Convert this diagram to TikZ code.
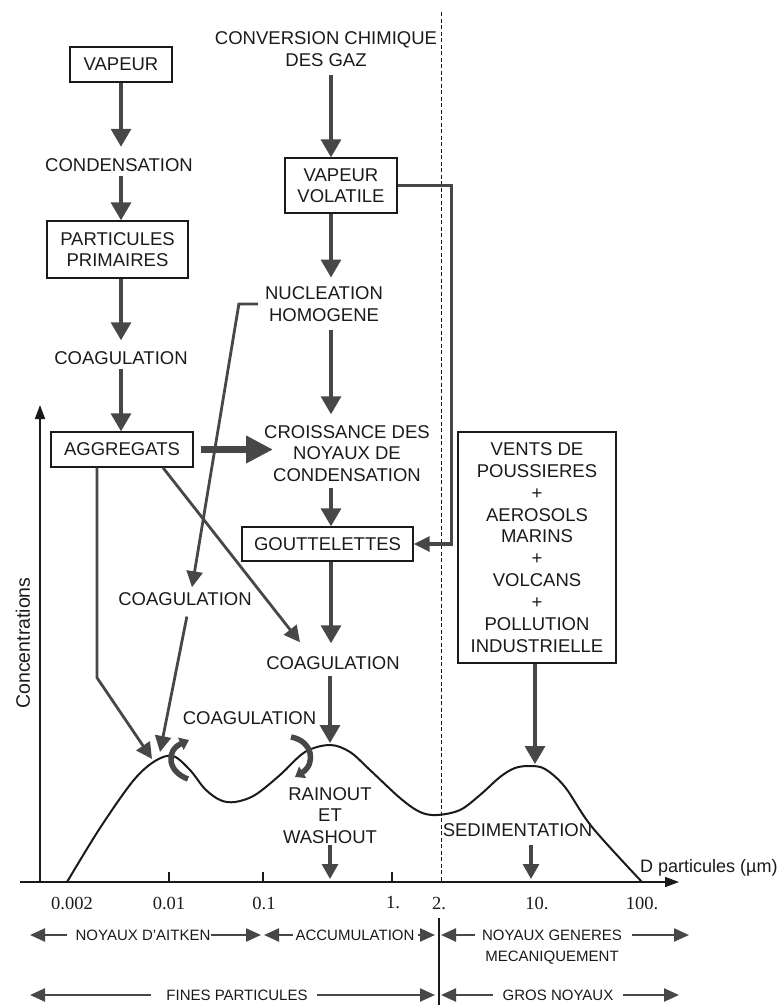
\documentclass[tikz,border=0pt]{standalone}
\usepackage{fontspec}
\setmainfont{Liberation Sans}
\newfontfamily\numfont{Liberation Serif}
\usetikzlibrary{arrows.meta}
\definecolor{arr}{HTML}{474747}
\definecolor{ink}{HTML}{1a1a1a}
\begin{document}
\begin{tikzpicture}[x=1pt,y=-1pt,
  lbl/.style={font=\fontsize{18.5}{21.5}\selectfont, align=center, inner sep=0pt, text=ink},
  box/.style={lbl, draw=ink, line width=1.4pt},
  blbl/.style={font=\fontsize{15}{18}\selectfont, inner sep=0pt, text=ink},
  num/.style={font=\numfont\fontsize{18.5}{20}\selectfont, inner sep=0pt, text=ink},
  main/.style={draw=arr, line width=3.4pt, -{Triangle[width=20pt,length=18pt]}},
  thinarr/.style={draw=arr, line width=2.8pt, -{Triangle[width=16pt,length=16pt]}},
  fat/.style={draw=arr, line width=7pt, -{Triangle[width=26pt,length=27pt]}},
  side/.style={draw=arr, line width=3.2pt, -{Triangle[width=15pt,length=16pt]}},
  small/.style={draw=arr, line width=3.2pt, -{Triangle[width=16pt,length=15pt]}},
  curv/.style={draw=arr, line width=5.5pt, -{Triangle[width=13pt,length=9pt]}},
  band/.style={draw=arr, line width=2.4pt, -{Triangle[width=13pt,length=15pt]}},
  axis/.style={draw=ink, line width=1.6pt, -{Triangle[width=10pt,length=14pt]}},
]
\useasboundingbox (0,0) rectangle (779,1005);

% ---------- nodes ----------
\node[box, minimum width=102pt, minimum height=35pt] (vap) at (121,64.5) {VAPEUR};
\node[lbl] (cond) at (119,165.5) {CONDENSATION};
\node[box, minimum width=141pt, minimum height=57pt] (part) at (117.5,249.5) {PARTICULES\\PRIMAIRES};
\node[lbl] (coagA) at (121,358) {COAGULATION};
\node[box, minimum width=142pt, minimum height=35pt] (aggr) at (122,449.5) {AGGREGATS};
\node[lbl] (conv) at (326,49) {CONVERSION CHIMIQUE\\DES GAZ};
\node[box, minimum width=112pt, minimum height=55pt] (vv) at (341,185.5) {VAPEUR\\VOLATILE};
\node[lbl] (nucl) at (324,304) {NUCLEATION\\HOMOGENE};
\node[lbl] (crois) at (347,453.5) {CROISSANCE DES\\NOYAUX DE\\CONDENSATION};
\node[box, minimum width=171pt, minimum height=34pt] (goutt) at (327.5,544) {GOUTTELETTES};
\node[lbl] (coagB) at (333,663) {COAGULATION};
\node[lbl] (coagL) at (185,599) {COAGULATION};
\node[lbl] (coagC) at (249.5,718) {COAGULATION};
\node[box, minimum width=158pt, minimum height=231pt, font=\fontsize{18.5}{21.9}\selectfont] (vents) at (537,547.5) {VENTS DE\\POUSSIERES\\+\\AEROSOLS\\MARINS\\+\\VOLCANS\\+\\POLLUTION\\INDUSTRIELLE};
\node[lbl] (rain) at (330,815.5) {RAINOUT\\ET\\WASHOUT};
\node[lbl] (sed) at (517.5,830) {SEDIMENTATION};
\node[lbl, font=\fontsize{19.5}{22}\selectfont, rotate=90] (conc) at (23,643) {Concentrations};
\node[lbl, font=\fontsize{18}{20}\selectfont, anchor=west] (dp) at (640,868) {D particules (µm)};

% ---------- coordinates ----------
\coordinate (cA) at (121,0);
\coordinate (cB) at (331,0);
\coordinate (pk1a) at (152,759);
\coordinate (pk1b) at (160,752);
\coordinate (pk2) at (330,743);
\coordinate (pk3) at (535,764);
\coordinate (axR) at (330,879);
\coordinate (axS) at (531,879);
\coordinate (xs) at (20,882);
\coordinate (xe) at (679,882);
\coordinate (yb) at (40,882);
\coordinate (ye) at (40,405);

% ---------- dashed separator ----------
\draw[ink, line width=1pt, dash pattern=on 4pt off 2.5pt] (441,12) -- (441,882);
\draw[ink, line width=1.3pt] (439,918) -- (439,1005);

% ---------- axes ----------
\draw[axis] (xs) -- (xe);
\draw[axis] (yb) -- (ye);
\foreach \x in {169,263,392} \draw[ink, line width=1.4pt] (\x,872) -- (\x,882);
\node[num] (t1) at (72,903) {0.002};
\node[num] (t2) at (169,903) {0.01};
\node[num] (t3) at (264,903) {0.1};
\node[num] (t4) at (393,903) {1.};
\node[num] (t5) at (439,903) {2.};
\node[num] (t6) at (537,903) {10.};
\node[num] (t7) at (642,903) {100.};

% ---------- distribution curve ----------
\draw[ink, line width=2pt] plot[smooth, tension=0.55] coordinates {(67,882) (100,828) (133,781) (155,761) (173,756) (190,770) (205,789) (220,800) (235,802) (255,795) (280,775) (305,752) (330,745) (350,752) (370,770) (400,798) (420,812) (437,815) (460,810) (480,795) (500,777) (515,768) (530,766) (545,769) (565,787) (592,827) (642,882)};

% ---------- flow arrows ----------
\draw[main, shorten >=12pt] (vap.south -| cA) -- (cond.north -| cA);
\draw[main, shorten <=4pt] (cond.south -| cA) -- (part.north -| cA);
\draw[main, shorten >=11pt] (part.south -| cA) -- (coagA.north -| cA);
\draw[main, shorten <=4pt] (coagA.south -| cA) -- (aggr.north -| cA);
\draw[main, shorten <=8pt] (conv.south -| cB) -- (vv.north -| cB);
\draw[main, shorten >=9pt] (vv.south -| cB) -- (nucl.north -| cB);
\draw[main, shorten <=8pt, shorten >=11pt] (nucl.south -| cB) -- (crois.north -| cB);
\draw[main, shorten <=6pt] (crois.south -| cB) -- (goutt.north -| cB);
\draw[main, shorten >=13pt] (goutt.south -| cB) -- (coagB.north -| cB);
\draw[main, shorten <=6pt] (coagB.south -| pk2) -- (pk2);
\draw[main] (vents.south -| pk3) -- (pk3);

\draw[fat, shorten <=7pt] (aggr.east) -- ([xshift=9pt]crois.west |- aggr.east);
\draw[thinarr] ([xshift=41pt]aggr.south) -- ([xshift=-33pt,yshift=14pt]coagB.north);
\draw[thinarr] ([xshift=-7pt]nucl.west) -- ++(-19,0) -- ([xshift=7pt,yshift=5pt]coagL.north);
\draw[thinarr] ([xshift=-25pt]aggr.south) -- ++(0,210) -- (pk1a);
\draw[thinarr, shorten <=11pt] ([xshift=4pt]coagL.south) -- (pk1b);
\draw[side] (vv.east) -- ++(54,0) |- (goutt.east);

\draw[curv] (188,779) .. controls (168,772) and (165,751) .. (189,740);
\draw[curv] (291,737) .. controls (313,741) and (316,764) .. (295,777);

\draw[small, shorten <=1pt] (rain.south -| axR) -- (axR);
\draw[small, shorten <=8pt] (sed.south -| axS) -- (axS);

% ---------- size bands ----------
\node[blbl] (ait) at (143,935) {NOYAUX D'AITKEN};
\coordinate (aitL) at (30,935);
\coordinate (aitR) at (261,935);
\draw[band, shorten <=8pt] (ait.west) -- (aitL);
\draw[band] (ait.east) -- (aitR);

\node[blbl] (acc) at (355,935) {ACCUMULATION};
\coordinate (accL) at (264,935);
\coordinate (accR) at (435,935);
\draw[band, shorten <=2pt] (acc.west) -- (accL);
\draw[band, shorten <=3pt] (acc.east) -- (accR);

\node[blbl] (ngm) at (552,935) {NOYAUX GENERES};
\node[blbl] (meca) at (552,958) {MECANIQUEMENT};
\coordinate (ngmL) at (441,935);
\coordinate (ngmR) at (689,935);
\draw[band, shorten <=7pt] (ngm.west) -- (ngmL);
\draw[band, shorten <=10pt] (ngm.east) -- (ngmR);

\node[blbl] (fines) at (237,995) {FINES PARTICULES};
\coordinate (finL) at (30,995);
\coordinate (finR) at (435,995);
\draw[band, shorten <=15pt] (fines.west) -- (finL);
\draw[band, shorten <=9pt] (fines.east) -- (finR);

\node[blbl] (gros) at (558,995) {GROS NOYAUX};
\coordinate (grL) at (441,995);
\coordinate (grR) at (679,995);
\draw[band, shorten <=10pt] (gros.west) -- (grL);
\draw[band, shorten <=10pt] (gros.east) -- (grR);
\end{tikzpicture}
\end{document}
